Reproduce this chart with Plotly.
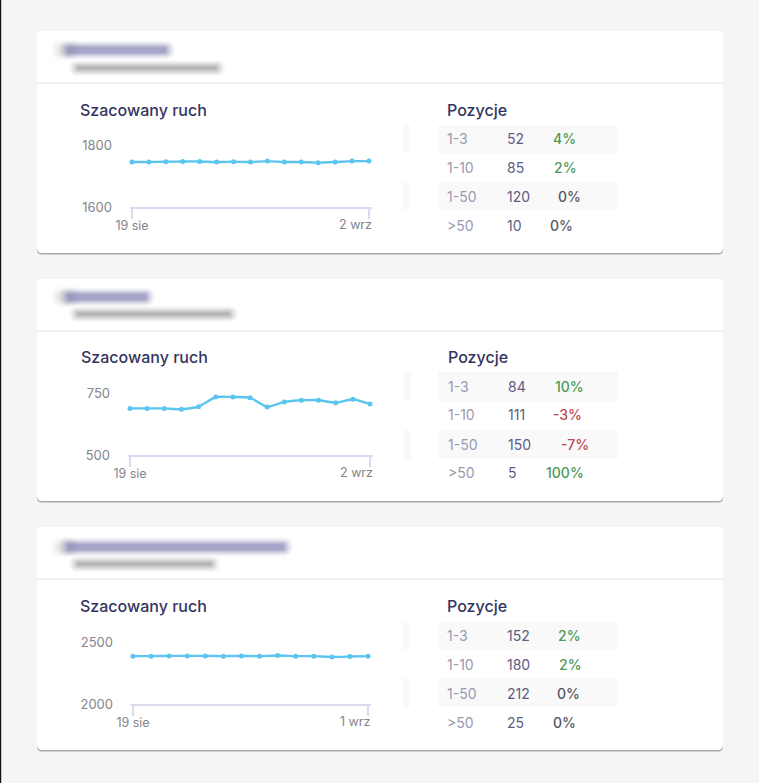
import plotly.graph_objects as go

W, H = 759, 783
FONT = "Inter"

days_a = ["19 sie", "20 sie", "21 sie", "22 sie", "23 sie", "24 sie", "25 sie", "26 sie",
          "27 sie", "28 sie", "29 sie", "30 sie", "31 sie", "1 wrz", "2 wrz"]
days_c = days_a[:-1]

ruch_1 = [1745, 1745, 1746, 1747, 1747, 1745, 1746, 1745, 1748, 1745, 1745, 1743, 1745, 1748, 1748]
ruch_2 = [688, 688, 688, 684, 695, 734, 734, 731, 694, 714, 721, 721, 711, 725, 706]
ruch_3 = [2386, 2386, 2388, 2388, 2388, 2386, 2388, 2386, 2391, 2386, 2386, 2380, 2383, 2386]

ticks_1 = [1600, 1800]
ticks_2 = [500, 750]
ticks_3 = [2000, 2500]

zakresy = ["1-3", "1-10", "1-50", ">50"]
pozycje_1 = ["52", "85", "120", "10"]
pozycje_2 = ["84", "111", "150", "5"]
pozycje_3 = ["152", "180", "212", "25"]
zmiana_1 = ["4%", "2%", "0%", "0%"]
zmiana_2 = ["10%", "-3%", "-7%", "100%"]
zmiana_3 = ["2%", "2%", "0%", "0%"]

# where each card sits on the page, in pixels
karty = [
    dict(top=31, bottom=253, line=83, dx=0, plot=(130, 372), y_top=145, y_bot=207,
         days=days_a, ruch=ruch_1, ticks=ticks_1, poz=pozycje_1, zm=zmiana_1,
         zm_x=[553, 554, 558, 550], rows=[139, 167, 196, 225], bands=[(125, 153), (182, 210)],
         title_y=110, name=(67, 167, 50), sub=(77, 217, 68)),
    dict(top=279, bottom=501, line=331, dx=1, plot=(128, 373), y_top=393, y_bot=455,
         days=days_a, ruch=ruch_2, ticks=ticks_2, poz=pozycje_2, zm=zmiana_2,
         zm_x=[555, 553, 561, 546], rows=[387, 415, 444, 473], bands=[(372, 401), (430, 459)],
         title_y=357, name=(67, 147, 297), sub=(77, 230, 314)),
    dict(top=527, bottom=750, line=579, dx=0, plot=(131, 371), y_top=642, y_bot=704,
         days=days_c, ruch=ruch_3, ticks=ticks_3, poz=pozycje_3, zm=zmiana_3,
         zm_x=[558, 559, 557, 553], rows=[635, 664, 693, 722], bands=[(622, 650), (678, 707)],
         title_y=606, name=(67, 285, 547), sub=(77, 212, 564)),
]


def px(x):
    return x / W


def py(y):
    return 1 - y / H


def rect(x0, y0, x1, y1, color, r=0, opacity=1):
    path = (f"M {px(x0 + r)} {py(y0)} L {px(x1 - r)} {py(y0)} Q {px(x1)} {py(y0)} {px(x1)} {py(y0 + r)} "
            f"L {px(x1)} {py(y1 - r)} Q {px(x1)} {py(y1)} {px(x1 - r)} {py(y1)} "
            f"L {px(x0 + r)} {py(y1)} Q {px(x0)} {py(y1)} {px(x0)} {py(y1 - r)} "
            f"L {px(x0)} {py(y0 + r)} Q {px(x0)} {py(y0)} {px(x0 + r)} {py(y0)} Z")
    return dict(type="path", path=path, xref="paper", yref="paper", fillcolor=color,
                line_width=0, opacity=opacity, layer="below")


def blur(x0, x1, yc, half, color):
    # the names are blurred out in the source, fake it with stacked soft bars
    out = []
    for spread, op in [(8, 0.05), (6.5, 0.07), (5, 0.09), (3.5, 0.12), (2, 0.15), (0.5, 0.18), (-1, 0.2)]:
        h = max(half + spread * 0.75, 0.6)
        out.append(rect(x0 - spread, yc - h, x1 + spread, yc + h, color, r=h, opacity=op))
    return out


def text(x, y, s, size, color, anchor="left", weight=400):
    # annotations pad their text by 2px, take that back
    return dict(x=px(x), y=py(y), xref="paper", yref="paper", text=s, showarrow=False,
                xanchor=anchor, yanchor="middle", align=anchor, xshift=-2,
                font=dict(family=FONT, size=size, color=color, weight=weight))


def kolor(z):
    if z.startswith("-"):
        return "#c0484f"
    if z == "0%":
        return "#57575f"
    return "#4c9a55"


shapes = [rect(0, 0, 1.2, H, "#111111")]
annotations = []
fig = go.Figure()

for i, k in enumerate(karty):
    suffix = "" if i == 0 else str(i + 1)
    dx = k["dx"]

    shapes.append(rect(37, k["top"] + 1, 723, k["bottom"] + 1.6, "#a9a9a9", r=5))
    shapes.append(rect(37, k["top"], 723, k["bottom"], "#ffffff", r=5))
    shapes.append(rect(37, k["line"] - 0.7, 723, k["line"] + 0.7, "#ececec"))

    x0, x1, yc = k["name"]
    shapes += blur(x0 - 9, x0 + 6, yc, 5, "#d0d0d0")
    shapes += blur(x0, x1, yc, 3.5, "#6c6ea8")
    x0, x1, yc = k["sub"]
    shapes += blur(x0, x1, yc, 2, "#858585")

    for b0, b1 in k["bands"]:
        shapes.append(rect(403 + dx, b0, 410 + dx, b1, "#f9f9f9"))
        shapes.append(rect(438, b0, 617 + dx, b1, "#f9f9fa"))

    annotations.append(text(80 + dx, k["title_y"], "Szacowany ruch", 16, "#34345f", weight=500))
    annotations.append(text(447 + dx, k["title_y"], "Pozycje", 16, "#34345f", weight=500))
    for z, p, m, mx, y in zip(zakresy, k["poz"], k["zm"], k["zm_x"], k["rows"]):
        annotations.append(text(447 + dx, y, z, 14, "#9a9ab0"))
        annotations.append(text(507 + dx, y, p, 14, "#5d5d84"))
        annotations.append(text(mx, y, m, 14, kolor(m), weight=500))

    fig.add_trace(go.Scatter(
        x=k["days"], y=k["ruch"], mode="lines+markers",
        line=dict(color="#5cc5ef", width=2.4, shape="spline", smoothing=0.4),
        marker=dict(color="#5cc5ef", size=5),
        cliponaxis=False, showlegend=False, hoverinfo="skip",
        xaxis="x" + suffix, yaxis="y" + suffix,
    ))

    days = k["days"]
    span = k["plot"][1] - k["plot"][0]
    step = (span - 5) / (len(days) - 1)
    x_axis = dict(
        domain=[px(k["plot"][0]), px(k["plot"][1])],
        anchor="y" + suffix, type="category", categoryorder="array", categoryarray=days,
        range=[-2 / step, len(days) - 1 + 3 / step],
        tickmode="array", tickvals=[days[0], days[-1]], ticktext=[days[0], " "],
        ticks="outside", ticklen=10, tickwidth=1.5, tickcolor="#d9dcee",
        showline=True, linecolor="#d9dcee", linewidth=1.5, showgrid=False, zeroline=False,
        tickfont=dict(family=FONT, size=12.5, color="#85858a"), ticklabelstandoff=-4,
        automargin=False,
    )
    y_axis = dict(
        domain=[py(k["y_bot"]), py(k["y_top"])],
        anchor="x" + suffix, range=[k["ticks"][0], k["ticks"][1]],
        tickmode="array", tickvals=k["ticks"], ticklen=0, ticks="",
        ticklabelstandoff=17, showgrid=True, gridcolor="#ececf1", gridwidth=1.2,
        showline=False, zeroline=False, automargin=False,
        tickfont=dict(family=FONT, size=13, color="#85858a"),
    )
    fig.update_layout({"xaxis" + suffix: x_axis, "yaxis" + suffix: y_axis})

    # last date label is pulled inwards so that it ends at the axis edge
    annotations.append(dict(
        x=days[-1], xref="x" + suffix, y=0, yref="y" + suffix + " domain",
        yshift=-17.5, xshift=5, text=days[-1], showarrow=False, xanchor="right", yanchor="middle",
        font=dict(family=FONT, size=12.5, color="#85858a"),
    ))

fig.update_layout(
    width=W, height=H, margin=dict(l=0, r=0, t=0, b=0, pad=0), autosize=False,
    paper_bgcolor="#f5f5f5", plot_bgcolor="rgba(0,0,0,0)",
    shapes=shapes, annotations=annotations, showlegend=False,
)

# plotly's page keeps the browser's default body margin, drop it so the figure fills the window
fig.write_html("out.html", config={"displayModeBar": False},
               post_script="document.body.style.margin='0';document.body.style.background='#f5f5f5';")
